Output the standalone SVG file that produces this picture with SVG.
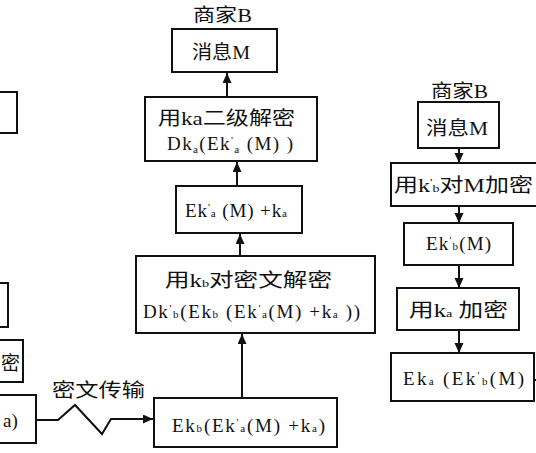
<svg xmlns="http://www.w3.org/2000/svg" width="536" height="453" viewBox="0 0 536 453">
<defs>
<style>
.box{fill:#fff;stroke:#111;stroke-width:2}
.t{font-family:"Liberation Serif","Noto Sans CJK SC",serif;font-size:19px;fill:#111}
.s{font-size:11px}
.c{fill:none;stroke:#111;stroke-width:2}
</style>
<marker id="ah" markerUnits="userSpaceOnUse" markerWidth="10" markerHeight="12" refX="10" refY="4.5" orient="auto">
<path d="M0,0 L10,4.5 L0,9 Z" fill="#111"/>
</marker>
</defs>
<rect width="536" height="453" fill="#fff"/>

<g id="connectors">
<line class="c" x1="227" y1="97" x2="227" y2="73" marker-end="url(#ah)"/>
<line class="c" x1="237" y1="186" x2="237" y2="162" marker-end="url(#ah)"/>
<line class="c" x1="240" y1="256" x2="240" y2="234" marker-end="url(#ah)"/>
<line class="c" x1="242" y1="398" x2="242" y2="334" marker-end="url(#ah)"/>
<line class="c" x1="459" y1="148" x2="459" y2="163" marker-end="url(#ah)"/>
<line class="c" x1="459" y1="206" x2="459" y2="223" marker-end="url(#ah)"/>
<line class="c" x1="459" y1="265" x2="459" y2="288" marker-end="url(#ah)"/>
<line class="c" x1="459" y1="330" x2="459" y2="353" marker-end="url(#ah)"/>
<polyline class="c" points="36,420 58,420 75,405 102,434 111,419 153,419" marker-end="url(#ah)"/>
<line class="c" x1="534" y1="380" x2="536" y2="380"/>
<text class="t" x="52" y="397" textLength="93" lengthAdjust="spacingAndGlyphs">密文传输</text>
</g>

<g id="left-1"><rect class="box" x="-60" y="92" width="77" height="41"/></g>
<g id="left-2"><rect class="box" x="-60" y="283" width="68" height="44"/></g>
<g id="left-3"><rect class="box" x="-60" y="340" width="83" height="42"/><text class="t" x="1" y="370">密</text></g>
<g id="left-4"><rect class="box" x="-60" y="395" width="96" height="48"/><text class="t" x="3" y="427">a)</text></g>

<g id="mid-title"><text class="t" x="193" y="22" textLength="59" lengthAdjust="spacingAndGlyphs">商家B</text></g>
<g id="mid-msg"><rect class="box" x="172" y="29" width="105" height="43"/><text class="t" x="192" y="59" textLength="58" lengthAdjust="spacingAndGlyphs">消息M</text></g>
<g id="mid-dec2"><rect class="box" x="145" y="97" width="172" height="64"/>
<text class="t" x="158" y="125" textLength="137" lengthAdjust="spacingAndGlyphs">用ka二级解密</text>
<text class="t" x="167" y="150" textLength="126" lengthAdjust="spacing">Dk<tspan class="s" dy="3">a</tspan><tspan dy="-3">(Ek</tspan><tspan class="s" dy="-6">'</tspan><tspan class="s" dy="9">a</tspan><tspan dy="-3"> (M) )</tspan></text></g>
<g id="mid-cipher"><rect class="box" x="176" y="186" width="126" height="47"/>
<text class="t" x="185" y="217" textLength="102" lengthAdjust="spacing">Ek<tspan class="s" dy="-6">'</tspan><tspan class="s" dy="6">a</tspan> (M) +k<tspan class="s">a</tspan></text></g>
<g id="mid-dec1"><rect class="box" x="136" y="256" width="239" height="77"/>
<text class="t" x="165" y="287" textLength="167" lengthAdjust="spacingAndGlyphs">用k<tspan class="s">b</tspan>对密文解密</text>
<text class="t" x="143" y="318" textLength="217" lengthAdjust="spacing">Dk<tspan class="s" dy="-6">'</tspan><tspan class="s" dy="6">b</tspan>(Ek<tspan class="s">b</tspan> (Ek<tspan class="s" dy="-6">'</tspan><tspan class="s" dy="6">a</tspan>(M) +k<tspan class="s">a</tspan> ))</text></g>
<g id="mid-recv"><rect class="box" x="154" y="398" width="183" height="49"/>
<text class="t" x="172" y="432" textLength="153" lengthAdjust="spacing">Ek<tspan class="s">b</tspan>(Ek<tspan class="s" dy="-6">'</tspan><tspan class="s" dy="6">a</tspan>(M) +k<tspan class="s">a</tspan>)</text></g>

<g id="right-title"><text class="t" x="431" y="98" textLength="57" lengthAdjust="spacingAndGlyphs">商家B</text></g>
<g id="right-msg"><rect class="box" x="418" y="102" width="81" height="46"/><text class="t" x="426" y="135" textLength="62" lengthAdjust="spacingAndGlyphs">消息M</text></g>
<g id="right-enc1"><rect class="box" x="391" y="163" width="146" height="43"/>
<text class="t" x="394" y="192" textLength="139" lengthAdjust="spacingAndGlyphs">用k<tspan class="s" dy="-6">'</tspan><tspan class="s" dy="6">b</tspan>对M加密</text></g>
<g id="right-c1"><rect class="box" x="404" y="223" width="109" height="42"/>
<text class="t" x="426" y="250" textLength="65" lengthAdjust="spacing">Ek<tspan class="s" dy="-6">'</tspan><tspan class="s" dy="6">b</tspan>(M)</text></g>
<g id="right-enc2"><rect class="box" x="397" y="288" width="122" height="42"/>
<text class="t" x="409" y="317" textLength="99" lengthAdjust="spacingAndGlyphs">用k<tspan class="s">a</tspan> 加密</text></g>
<g id="right-c2"><rect class="box" x="391" y="353" width="143" height="48"/>
<text class="t" x="403" y="385" textLength="121" lengthAdjust="spacing">Ek<tspan class="s">a</tspan> (Ek<tspan class="s" dy="-6">'</tspan><tspan class="s" dy="6">b</tspan>(M)</text></g>
</svg>
